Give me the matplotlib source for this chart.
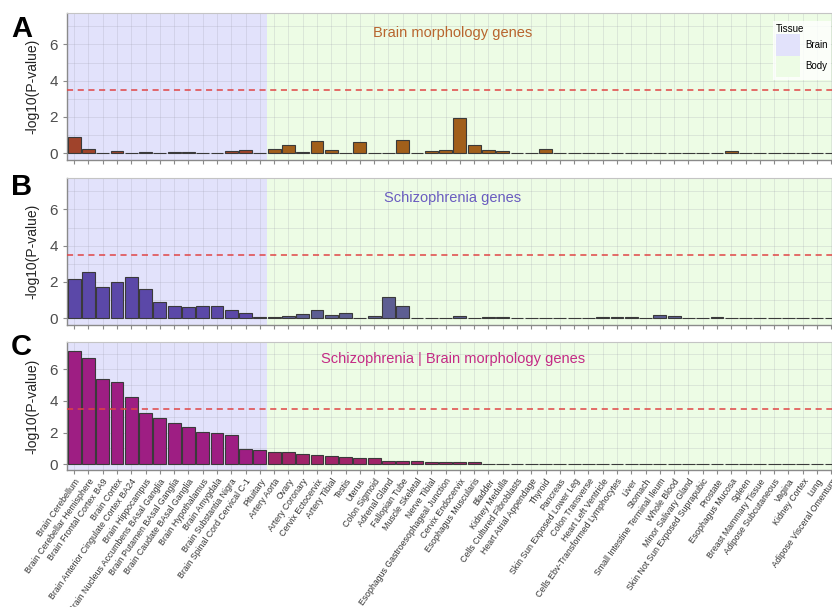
import matplotlib
matplotlib.use("Agg")
import matplotlib.pyplot as plt
from matplotlib.patches import Patch
import numpy as np

plt.rcParams["font.family"] = ["Liberation Sans", "DejaVu Sans"]

tissues = [
    "Brain Cerebellum", "Brain Cerebellar Hemisphere", "Brain Frontal Cortex BA9",
    "Brain Cortex", "Brain Anterior Cingulate Cortex BA24", "Brain Hippocampus",
    "Brain Nucleus Accumbens BAsal Ganglia", "Brain Putamen BAsal Ganglia",
    "Brain Caudate BAsal Ganglia", "Brain Hypothalamus", "Brain Amygdala",
    "Brain Substantia Nigra", "Brain Spinal Cord Cervical C-1", "Pituitary",
    "Artery Aorta", "Ovary", "Artery Coronary", "Cervix Ectocervix", "Artery Tibial",
    "Testis", "Uterus", "Colon Sigmoid", "Adrenal Gland", "Fallopian Tube",
    "Muscle Skeletal", "Nerve Tibial", "Esophagus Gastroesophageal Junction",
    "Cervix Endocervix", "Esophagus Muscularis", "Bladder", "Kidney Medulla",
    "Cells Cultured Fibroblasts", "Heart Atrial Appendage", "Thyroid", "Pancreas",
    "Skin Sun Exposed Lower Leg", "Colon Transverse", "Heart Left Ventricle",
    "Cells Ebv-Transformed Lymphocytes", "Liver", "Stomach",
    "Small Intestine Terminal Ileum", "Whole Blood", "Minor Salivary Gland",
    "Skin Not Sun Exposed Suprapubic", "Prostate", "Esophagus Mucosa", "Spleen",
    "Breast Mammary Tissue", "Adipose Subcutaneous", "Vagina", "Kidney Cortex",
    "Lung", "Adipose Visceral Omentum",
]
n_brain = 14

# -log10(P) per tissue
morph = [0.90, 0.24, 0.02, 0.15, 0.02, 0.07, 0.02, 0.09, 0.07, 0.02, 0.02, 0.13, 0.16, 0.03,
         0.26, 0.46, 0.05, 0.66, 0.20, 0.02, 0.64, 0.04, 0.02, 0.75, 0.02, 0.13, 0.20, 1.92,
         0.44, 0.18, 0.15, 0.02, 0.02, 0.26, 0.02, 0.02, 0.02, 0.03, 0.02, 0.02, 0.02, 0.02,
         0.02, 0.02, 0.02, 0.04, 0.13, 0.02, 0.02, 0.02, 0.03, 0.03, 0.02, 0.02]
scz = [2.15, 2.53, 1.71, 2.00, 2.29, 1.61, 0.88, 0.70, 0.64, 0.68, 0.66, 0.46, 0.29, 0.09,
       0.05, 0.10, 0.22, 0.44, 0.18, 0.27, 0.02, 0.10, 1.17, 0.70, 0.02, 0.02, 0.03, 0.11,
       0.02, 0.06, 0.09, 0.04, 0.04, 0.02, 0.02, 0.02, 0.02, 0.06, 0.09, 0.05, 0.02, 0.20,
       0.11, 0.02, 0.02, 0.05, 0.02, 0.02, 0.02, 0.02, 0.03, 0.03, 0.02, 0.02]
joint = [7.15, 6.69, 5.42, 5.17, 4.26, 3.25, 2.89, 2.58, 2.36, 2.04, 1.98, 1.85, 0.99, 0.89,
         0.74, 0.74, 0.63, 0.56, 0.52, 0.45, 0.42, 0.36, 0.22, 0.20, 0.19, 0.16, 0.14, 0.13,
         0.12, 0.02, 0.02, 0.02, 0.02, 0.02, 0.02, 0.02, 0.02, 0.02, 0.02, 0.02, 0.02, 0.02,
         0.02, 0.02, 0.02, 0.02, 0.02, 0.02, 0.02, 0.02, 0.02, 0.02, 0.02, 0.02]

panels = [
    ("A", "Brain morphology genes", morph, "#A0432B", "#A15F1B", "#B8652E"),
    ("B", "Schizophrenia genes", scz, "#5B48A8", "#5D5E92", "#6A5CC0"),
    ("C", "Schizophrenia | Brain morphology genes", joint, "#9E1E83", "#A02468", "#C42A85"),
]
threshold = 3.5
brain_bg = "#E2E2FB"
body_bg = "#EDFCE5"

W, H = 832, 607
fig = plt.figure(figsize=(W / 100, H / 100), dpi=100)

# axes boxes in pixels: (top, bottom, letter baseline); the plot runs a little past the right edge
boxes = [(13, 160, 37), (178, 325, 195), (342, 470, 355)]
left_px, right_px = 67, 838.5

x = np.arange(len(tissues))
is_brain = x < n_brain

for (letter, title, vals, c_brain, c_body, c_title), (top, bot, base) in zip(panels, boxes):
    ax = fig.add_axes([left_px / W, 1 - bot / H, (right_px - left_px) / W, (bot - top) / H])
    ax.axvspan(-0.5, n_brain - 0.5, color=brain_bg, zorder=0, lw=0)
    ax.axvspan(n_brain - 0.5, len(tissues) - 0.5, color=body_bg, zorder=0, lw=0)
    colors = np.where(is_brain, c_brain, c_body)
    ax.bar(x, vals, width=0.9, color=colors, edgecolor="#3a3a3a", linewidth=0.8, zorder=3)
    ax.axhline(threshold, color="#E04545", lw=1.1, ls=(0, (4, 3)), zorder=4)
    ax.set_xlim(-0.5, len(tissues) - 0.5)
    ax.set_ylim(-0.37, 7.73)
    ax.set_yticks([0, 2, 4, 6])
    ax.set_yticks([1, 3, 5, 7], minor=True)
    ax.set_xticks(x)
    ax.grid(True, which="both", color="#9a9aa8", alpha=0.25, lw=0.6, zorder=1)
    ax.set_axisbelow(True)
    for s in ["top", "right"]:
        ax.spines[s].set_color("#c4c4c4")
    for s in ["left", "bottom"]:
        ax.spines[s].set_color("#8a8a8a")
        ax.spines[s].set_linewidth(1.0)
    ax.tick_params(axis="both", which="major", color="#8a8a8a", length=3,
                   labelsize=11, labelcolor="#4d4d4d")
    ax.tick_params(axis="y", which="minor", length=0)
    ax.set_ylabel("-log10(P-value)", fontsize=10, color="#222222", labelpad=7)
    ax.text((len(tissues) - 1) / 2, 6.65, title, fontsize=10.5, color=c_title,
            ha="center", va="center", zorder=5)
    if letter == "C":
        ax.set_xticklabels(tissues, rotation=55, ha="right", va="top",
                           rotation_mode="anchor", fontsize=6.3, color="#333333")
        ax.tick_params(axis="x", pad=2)
    else:
        ax.set_xticklabels([])
    fig.text(11 / W, 1 - base / H, letter, fontsize=21, fontweight="bold",
             ha="left", va="baseline")
    if letter == "A":
        handles = [Patch(facecolor=brain_bg, edgecolor="none"),
                   Patch(facecolor=body_bg, edgecolor="none")]
        leg = fig.legend(handles, ["Brain", "Body"], title="Tissue", loc="upper left",
                         bbox_to_anchor=(768 / W, 1 - 16 / H), fontsize=7,
                         title_fontsize=7, handlelength=2.4, handleheight=3.0,
                         handletextpad=0.6, labelspacing=0.0, borderpad=0.35,
                         frameon=True, fancybox=False, alignment="left")
        leg.get_frame().set_facecolor("white")
        leg.get_frame().set_edgecolor("none")

fig.savefig("out.png", dpi=100)
